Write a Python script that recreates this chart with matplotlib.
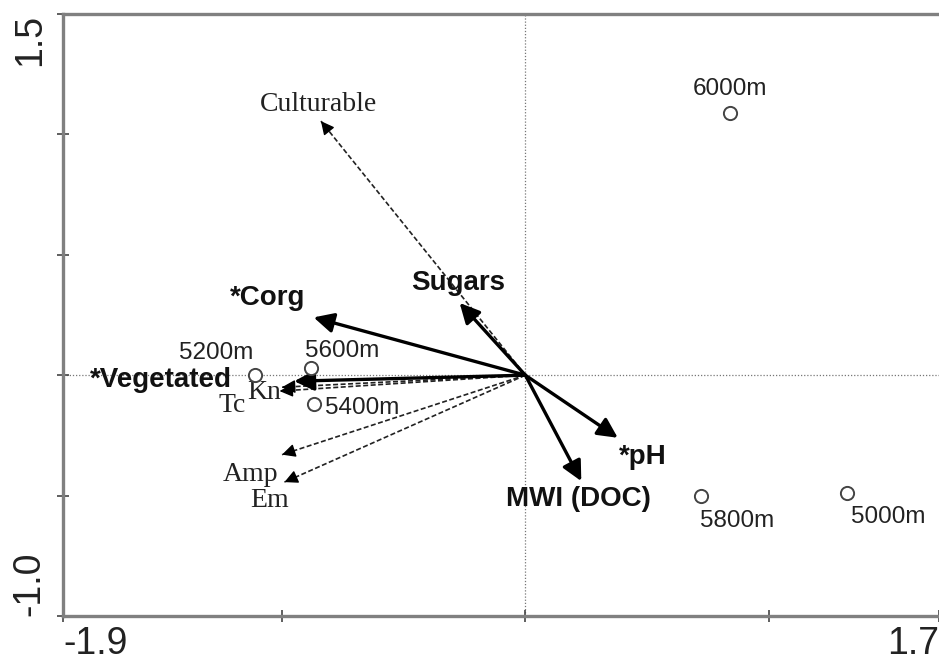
import matplotlib
matplotlib.use("Agg")
import matplotlib.pyplot as plt

# sampling sites (scores)
sites = ["5000m", "5200m", "5400m", "5600m", "5800m", "6000m"]
site_x = [1.32, -1.11, -0.87, -0.88, 0.72, 0.84]
site_y = [-0.49, 0.0, -0.12, 0.03, -0.50, 1.09]

# environmental variables (bold arrows)
env_names = ["*Corg", "Sugars", "*Vegetated", "*pH", "MWI (DOC)"]
env_x = [-0.87, -0.27, -0.95, 0.38, 0.23]
env_y = [0.24, 0.30, -0.025, -0.26, -0.44]

# response variables (dashed arrows)
bio_names = ["Culturable", "Tc", "Kn", "Amp", "Em"]
bio_x = [-0.84, -1.00, -1.01, -1.00, -0.99]
bio_y = [1.055, -0.05, -0.066, -0.33, -0.444]

# label offsets in points
site_off = [(30, -17), (-28, 16), (35, -3), (22, 12), (26, -18), (0, 17)]
env_off = [(-33, 14), (-1, 14), (-96, 1), (18, -14), (-2, -13)]
bio_off = [(-2, 12), (-36, -13), (-11, -1), (-23, -14), (-11, -13)]

fig = plt.figure(figsize=(9.39, 6.62), dpi=100)
ax = fig.add_axes([0.0671, 0.0695, 0.9329, 0.9094])
ax.set_xlim(-1.9, 1.7)
ax.set_ylim(-1.0, 1.5)

ax.axhline(0, color="#777777", lw=0.9, ls=(0, (1, 1.5)), zorder=1)
ax.axvline(0, color="#777777", lw=0.9, ls=(0, (1, 1.5)), zorder=1)

# dashed arrows
for name, x, y, off in zip(bio_names, bio_x, bio_y, bio_off):
    ax.plot([0, x], [0, y], color="#222222", lw=1.2, ls=(0, (3, 1.5)), zorder=2)
    ax.annotate("", xy=(x, y), xytext=(x * 0.96, y * 0.96),
                arrowprops=dict(arrowstyle="-|>", color="black", lw=1,
                                mutation_scale=20, shrinkA=0, shrinkB=0))
    ax.annotate(name, xy=(x, y), xytext=off, textcoords="offset points",
                ha="center", va="center", fontsize=20,
                family="Liberation Serif", color="#222222")

# bold arrows
for name, x, y, off in zip(env_names, env_x, env_y, env_off):
    ax.annotate("", xy=(x, y), xytext=(0, 0),
                arrowprops=dict(arrowstyle="-|>", color="black", lw=2.4,
                                mutation_scale=30, shrinkA=0, shrinkB=0))
    ax.annotate(name, xy=(x, y), xytext=off, textcoords="offset points",
                ha="center", va="center", fontsize=20, fontweight="bold",
                family="Liberation Sans", color="#111111")

# sites
ax.plot(site_x, site_y, "o", ms=9.5, mfc="white", mec="#444444", mew=1.4, zorder=4)
for name, x, y, off in zip(sites, site_x, site_y, site_off):
    ax.annotate(name, xy=(x, y), xytext=off, textcoords="offset points",
                ha="center", va="center", fontsize=17.5,
                family="Liberation Sans", color="#222222")

for s in ["left", "bottom", "top"]:
    ax.spines[s].set_color("#808080")
    ax.spines[s].set_linewidth(2.4)
ax.spines["right"].set_visible(False)

ax.set_xticks([-1.9, -1.0, 0.0, 1.0, 1.7])
ax.set_xticklabels(["-1.9", "", "", "", "1.7"])
ax.set_yticks([-1.0, -0.5, 0.0, 0.5, 1.0, 1.5])
ax.set_yticklabels(["-1.0", "", "", "", "", "1.5"])
ax.tick_params(direction="inout", length=8, width=1.2, color="#444444",
               labelsize=27, labelcolor="#222222")
ax.tick_params(axis="x", pad=3)
ax.tick_params(axis="y", pad=7)
for lab in ax.get_xticklabels():
    lab.set_family("Liberation Sans")
xl = ax.get_xticklabels()
xl[0].set_ha("left")
xl[-1].set_ha("right")
for lab in ax.get_yticklabels():
    lab.set_family("Liberation Sans")
    lab.set_rotation(90)
    lab.set_ha("right")
yl = ax.get_yticklabels()
yl[0].set_va("bottom")
yl[-1].set_va("top")

fig.savefig("out.png", dpi=100)
